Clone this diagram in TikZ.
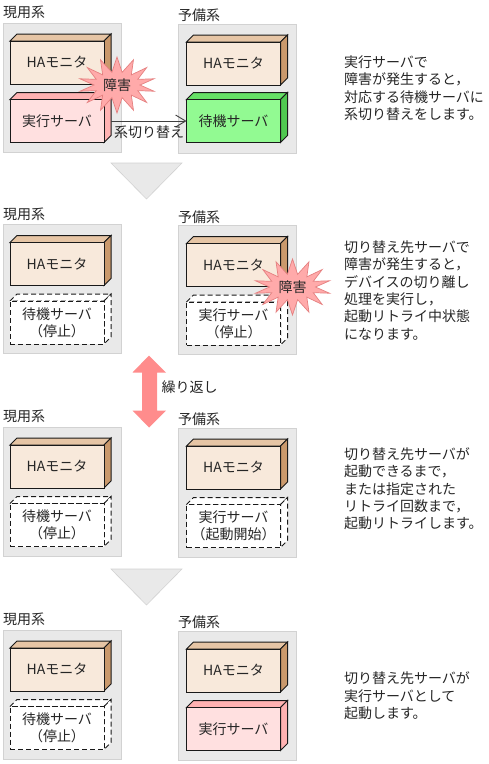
\documentclass[tikz,border=0pt]{standalone}
\usepackage{fontspec}
\setmainfont{Noto Sans CJK JP}
\usetikzlibrary{shapes.symbols,arrows.meta}

\definecolor{panelfill}{HTML}{E9E9E9}
\definecolor{panelline}{HTML}{D2D2D2}
\definecolor{burstfill}{HTML}{FFAAAA}
\definecolor{burstline}{HTML}{E58080}

\tikzset{
  every node/.style = {font=\fontsize{14}{17.4}\selectfont, text=black!85, inner sep=0pt, outer sep=0pt},
  panelbox/.style = {fill=panelfill, draw=panelline, line width=0.8pt},
  bigtri/.style = {fill=panelfill, draw=panelline, line width=0.6pt},
  syslabel/.style = {anchor=west},
  note/.style = {anchor=north west, align=left},
  burst/.style = {starburst, starburst points=14, starburst point height=15pt, random starburst=0,
    fill=burstfill, draw=burstline, line width=0.7pt, minimum width=76pt, minimum height=56pt},
  front/.style = {anchor=north west, minimum width=94pt, minimum height=43pt, align=center, line width=1pt, draw=black!90},
  ha front/.style = {front, fill={rgb,255:red,248;green,233;blue,219}},
  ha top/.style = {fill={rgb,255:red,230;green,197;blue,165}},
  ha side/.style = {fill={rgb,255:red,202;green,153;blue,108}},
  run front/.style = {front, fill={rgb,255:red,255;green,224;blue,224}},
  run top/.style = {fill={rgb,255:red,255;green,178;blue,178}},
  run side/.style = {fill={rgb,255:red,255;green,178;blue,178}},
  stby front/.style = {front, fill={rgb,255:red,146;green,250;blue,146}},
  stby top/.style = {fill={rgb,255:red,102;green,224;blue,102}},
  stby side/.style = {fill={rgb,255:red,80;green,200;blue,80}},
  off front/.style = {front, fill=white, dash pattern=on 5pt off 3pt},
  off top/.style = {fill=white, dash pattern=on 5pt off 3pt},
  off side/.style = {fill=white, dash pattern=on 5pt off 3pt},
}

% name, x, y, kind, text
\newcommand{\srvbox}[5]{
  \draw[#4 top, line width=1pt, draw=black!90] (#2,#3) -- ++(7,-7) -- ++(94,0) -- ++(-7,7) -- cycle;
  \draw[#4 side, line width=1pt, draw=black!90] (#2+94,#3) -- ++(7,-7) -- ++(0,43) -- ++(-7,7) -- cycle;
  \node[#4 front] (#1) at (#2,#3) {#5};
}

\begin{document}
\begin{tikzpicture}[x=1pt, y=-1pt]
\useasboundingbox (0,0) rectangle (489,764);

% panels, labels and the upper boxes
\foreach \row/\t in {1/23, 2/224.5, 3/427, 4/630} {
  \pgfmathsetmacro{\tr}{\t+1}
  \pgfmathsetmacro{\hl}{\t+18}
  \pgfmathsetmacro{\hr}{\t+19}
  \pgfmathsetmacro{\ll}{\t-10.5}
  \pgfmathsetmacro{\lr}{\t-7.5}
  \draw[panelbox] (3,\t) rectangle ++(118,129);
  \draw[panelbox] (178,\tr) rectangle ++(118,129);
  \node[syslabel] (cur\row) at (3,\ll) {現用系};
  \node[syslabel] (res\row) at (178,\lr) {予備系};
  \srvbox{hal\row}{10}{\hl}{ha}{HAモニタ}
  \srvbox{har\row}{186.5}{\hr}{ha}{HAモニタ}
}

% lower boxes
\srvbox{srvl1}{10}{99.5}{run}{実行サーバ}
\srvbox{srvr1}{186.5}{99.5}{stby}{待機サーバ}
\srvbox{srvl2}{10}{301}{off}{待機サーバ\\（停止）}
\srvbox{srvr2}{186.5}{302}{off}{実行サーバ\\（停止）}
\srvbox{srvl3}{10}{503.5}{off}{待機サーバ\\（停止）}
\srvbox{srvr3}{186.5}{504.5}{off}{実行サーバ\\（起動開始）}
\srvbox{srvl4}{10}{706.5}{off}{待機サーバ\\（停止）}
\srvbox{srvr4}{186.5}{707.5}{run}{実行サーバ}

% switchover
\draw[-{Straight Barb[length=10pt,width=12pt]}, line width=0.9pt, draw=black!75] ([xshift=7pt]srvl1.east) -- (srvr1.west);
\node (swlabel) at (149,132) {系切り替え};

% failures
\node[burst] (fail1) at (117,85) {障害};
\node[burst] (fail2) at (292.5,287) {障害};

% flow marks
\draw[bigtri] (111,163) -- (182,163) -- (146.5,199) -- cycle;
\draw[bigtri] (111,569) -- (182,569) -- (146.5,605) -- cycle;
\fill[red!45!white] (149,355.5) -- (166,372.5) -- (157,372.5) -- (157,410.5) -- (166,410.5)
  -- (149,427.5) -- (132.5,410.5) -- (142,410.5) -- (142,372.5) -- (132.5,372.5) -- cycle;
\node[anchor=west] (repeat) at (161.5,387) {繰り返し};

% notes
\node[note] (note1) at (344,55.5) {実行サーバで\\障害が発生すると，\\対応する待機サーバに\\系切り替えをします。};
\node[note] (note2) at (344,240.5) {切り替え先サーバで\\障害が発生すると，\\デバイスの切り離し\\処理を実行し，\\起動リトライ中状態\\になります。};
\node[note] (note3) at (344,447.5) {切り替え先サーバが\\起動できるまで，\\または指定された\\リトライ回数まで，\\起動リトライします。};
\node[note] (note4) at (344,672) {切り替え先サーバが\\実行サーバとして\\起動します。};

\end{tikzpicture}
\end{document}
